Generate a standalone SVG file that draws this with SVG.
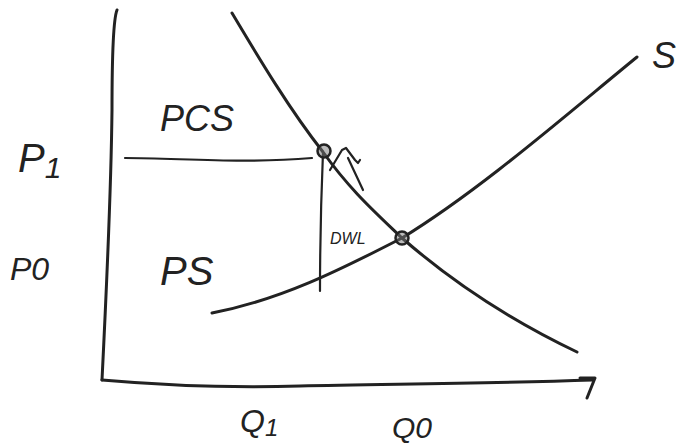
<svg xmlns="http://www.w3.org/2000/svg" width="686" height="444" viewBox="0 0 686 444">
<style>
.ln{fill:none;stroke:#222;stroke-width:3;stroke-linecap:round;stroke-linejoin:round}
.thin{fill:none;stroke:#222;stroke-width:2.2;stroke-linecap:round;stroke-linejoin:round}
.lbl{font-family:"Liberation Sans",Arial,sans-serif;font-style:italic;fill:#222}
.dot{fill:#777;fill-opacity:0.5;stroke:#222;stroke-width:2.5}
</style>
<rect width="686" height="444" fill="#fff"/>
<g id="axes">
<path class="ln" d="M117,10 C113,20 112,60 112,110 C111,200 106,300 102,380"/>
<path class="ln" d="M102,380 C170,386 230,388 300,386 C380,384 480,384 593,380"/>
<path class="ln" d="M580,378 L595,378 L587,398"/>
</g>
<g id="connectors">
<path class="ln" d="M232,13 C260,60 290,110 323,152 C350,190 375,212 402,238 C450,280 510,320 577,352"/>
<path class="ln" d="M212,313 C280,300 340,270 402,238 C480,190 560,120 637,57"/>
<path class="thin" d="M125,158 C180,158 240,164 312,158"/>
<path class="thin" d="M323,152 C321,200 320,250 320,291"/>
<path class="thin" d="M330,170 L342,150 L346,148 L355,160 L358,163 L360,160"/>
<path class="thin" d="M348,158 L363,190"/>
</g>
<g id="points">
<circle class="dot" cx="324" cy="151" r="6.5"/>
<circle class="dot" cx="402" cy="238" r="6.5"/>
</g>
<g id="labels">
<text class="lbl" x="18" y="172" font-size="40">P<tspan font-size="30" dy="6">1</tspan></text>
<text class="lbl" x="10" y="280" font-size="32">P0</text>
<text class="lbl" x="160" y="131" font-size="36">PCS</text>
<text class="lbl" x="160" y="285" font-size="40">PS</text>
<text class="lbl" x="330" y="244" font-size="16">DWL</text>
<text class="lbl" x="240" y="432" font-size="32">Q<tspan font-size="24" dy="4">1</tspan></text>
<text class="lbl" x="392" y="438" font-size="30">Q0</text>
<text class="lbl" x="652" y="68" font-size="36">S</text>
</g>
</svg>
